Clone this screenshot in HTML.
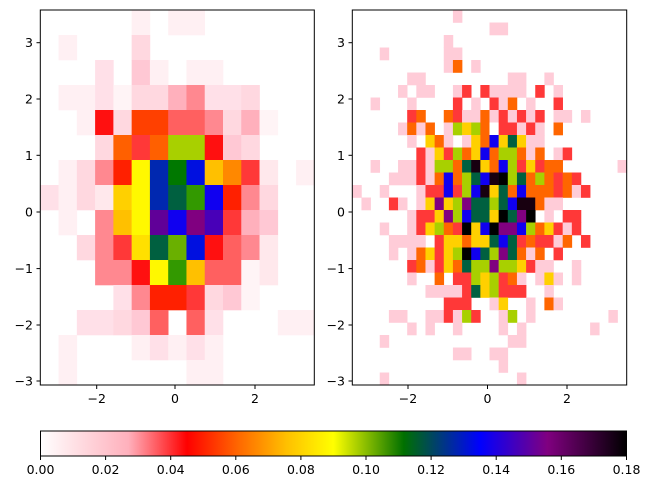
<!DOCTYPE html>
<html><head><meta charset="utf-8"><style>
html,body{margin:0;padding:0;background:#fff;width:651px;height:493px;overflow:hidden}
text{font-family:"DejaVu Sans","Liberation Sans",sans-serif;font-size:12.5px;fill:#000}
</style></head><body>
<svg id="s" width="651" height="493" xmlns="http://www.w3.org/2000/svg">
<defs><linearGradient id="cb" x1="0" x2="1" y1="0" y2="0">
<stop offset="0" stop-color="#ffffff"/><stop offset="0.15" stop-color="#ffb0bc"/>
<stop offset="0.25" stop-color="#ff0000"/><stop offset="0.34" stop-color="#ff6a00"/>
<stop offset="0.42" stop-color="#ffc000"/><stop offset="0.5" stop-color="#ffff00"/>
<stop offset="0.62" stop-color="#007000"/><stop offset="0.75" stop-color="#0000ff"/>
<stop offset="0.865" stop-color="#800080"/><stop offset="1" stop-color="#000000"/>
</linearGradient></defs>
<g id="L"></g><g id="R"></g>
<rect x="40.3" y="10" width="274" height="375" fill="none" stroke="#000" stroke-width="1"/>
<rect x="352.3" y="10" width="274.4" height="375" fill="none" stroke="#000" stroke-width="1"/>
<rect x="40.5" y="431" width="586" height="25" fill="url(#cb)" stroke="#000" stroke-width="1"/>
<g stroke="#000" stroke-width="1">
<line x1="96.7" y1="385" x2="96.7" y2="389"/><line x1="175" y1="385" x2="175" y2="389"/><line x1="255" y1="385" x2="255" y2="389"/>
<line x1="408" y1="385" x2="408" y2="389"/><line x1="487.5" y1="385" x2="487.5" y2="389"/><line x1="567" y1="385" x2="567" y2="389"/>
<line x1="36.5" y1="42.7" x2="40.3" y2="42.7"/><line x1="36.5" y1="99" x2="40.3" y2="99"/><line x1="36.5" y1="155.3" x2="40.3" y2="155.3"/><line x1="36.5" y1="212" x2="40.3" y2="212"/><line x1="36.5" y1="268.6" x2="40.3" y2="268.6"/><line x1="36.5" y1="325" x2="40.3" y2="325"/><line x1="36.5" y1="381" x2="40.3" y2="381"/>
<line x1="348.5" y1="42.7" x2="352.3" y2="42.7"/><line x1="348.5" y1="99" x2="352.3" y2="99"/><line x1="348.5" y1="155.3" x2="352.3" y2="155.3"/><line x1="348.5" y1="212" x2="352.3" y2="212"/><line x1="348.5" y1="268.6" x2="352.3" y2="268.6"/><line x1="348.5" y1="325" x2="352.3" y2="325"/><line x1="348.5" y1="381" x2="352.3" y2="381"/>
<line x1="40.5" y1="456" x2="40.5" y2="460"/><line x1="105.6" y1="456" x2="105.6" y2="460"/><line x1="170.7" y1="456" x2="170.7" y2="460"/><line x1="235.8" y1="456" x2="235.8" y2="460"/><line x1="300.9" y1="456" x2="300.9" y2="460"/><line x1="366" y1="456" x2="366" y2="460"/><line x1="431.1" y1="456" x2="431.1" y2="460"/><line x1="496.2" y1="456" x2="496.2" y2="460"/><line x1="561.3" y1="456" x2="561.3" y2="460"/><line x1="626.5" y1="456" x2="626.5" y2="460"/>
</g>
<g text-anchor="middle">
<text x="96.7" y="403">−2</text><text x="175" y="403">0</text><text x="255" y="403">2</text>
<text x="408" y="403">−2</text><text x="487.5" y="403">0</text><text x="567" y="403">2</text>
<text x="40.5" y="474">0.00</text><text x="105.6" y="474">0.02</text><text x="170.7" y="474">0.04</text><text x="235.8" y="474">0.06</text><text x="300.9" y="474">0.08</text><text x="366" y="474">0.10</text><text x="431.1" y="474">0.12</text><text x="496.2" y="474">0.14</text><text x="561.3" y="474">0.16</text><text x="626.5" y="474">0.18</text>
</g>
<g text-anchor="end">
<text x="33" y="47">3</text><text x="33" y="103.5">2</text><text x="33" y="160">1</text><text x="33" y="216.5">0</text><text x="33" y="273">−1</text><text x="33" y="329.5">−2</text><text x="33" y="385.5">−3</text>
<text x="345" y="47">3</text><text x="345" y="103.5">2</text><text x="345" y="160">1</text><text x="345" y="216.5">0</text><text x="345" y="273">−1</text><text x="345" y="329.5">−2</text><text x="345" y="385.5">−3</text>
</g>
</svg>
<script>
var NS="http://www.w3.org/2000/svg";
function draw(gid,rows,map,x0,w,y0,h){
 var g=document.getElementById(gid);
 rows.forEach(function(r,ri){
  if(!r)return;
  r.split(" ").forEach(function(t){
   var m=t.match(/^(\d+)(?:-(\d+))?(\w)$/);
   var a=+m[1],b=m[2]?+m[2]:a,c=map[m[3]];
   var e=document.createElementNS(NS,"rect");
   e.setAttribute("x",x0+a*w);e.setAttribute("y",y0+ri*h);
   e.setAttribute("width",(b-a+1)*w+0.3);e.setAttribute("height",h+0.3);
   e.setAttribute("fill",c);g.appendChild(e);
  });
 });
}
var LM={a:"#fff0f3",b:"#ffe0e8",c:"#ffd8e0",d:"#ffc8d4",e:"#ffb0bc",f:"#ff8890",g:"#ff6060",h:"#ff3838",i:"#ff1010",j:"#ff2000",k:"#ff4000",l:"#ff6000",m:"#ff8800",n:"#ffc000",o:"#ffd000",p:"#ffe000",q:"#fff800",r:"#a8d000",s:"#6ab000",t:"#339900",u:"#007800",v:"#006040",w:"#0028b0",x:"#0010e0",y:"#1000f0",z:"#4800b8",A:"#600098",B:"#800080",C:"#fff4f6",D:"#ffe8ec"};
var LR=["5a 7-8a","1a 5c","3b 5d 6a 8-9a","1-2a 3b 4C 5-6c 7e 8f 9-10b 11c","2a 3i 4c 5-6k 7-8g 9f 10c 11e 12C","3c 4l 5h 6l 7-8r 9i 10d 11c","1a 2c 3f 4j 5q 6w 7u 8x 9n 10m 11h 12D 14a","0b 1a 2c 3D 4o 5q 6w 7v 8t 9y 10j 11f 12c","1a 3f 4n 5q 6A 7y 8B 9z 10h 11e 12d","2c 3f 4h 5p 6v 7s 8x 9i 10g 11f 12D","3-4f 5i 6q 7t 8n 9-10g 11C 12D","4b 5f 6-7j 8h 9c 10d 11C","2-3b 4c 5d 6g 8g 9b 13-14a","1a 5a 6b 7a 8b 9a","1a 8-9a"];
var RM={p:"#ffccd8",r:"#ff3838",o:"#ff6600",y:"#ffd000",l:"#a8d000",g:"#006040",b:"#1000f0",u:"#800080",k:"#180010",K:"#000000",w:"#ffffff"};
var RR=["11p","15-16p","10p","3p 10-11p","10p 11o 13p","6-7p 17-18p 21p","5p 7-8p 11p 12r 14r 15-18p 20r 22p","2p 6p 11r 13p 15r 16p 17o 19p 22r","6r 7o 10o 11r 12-13p 14o 15p 16r 17p 18r 19p 20r 22-23p 25p","5p 6o 7p 8o 10p 11l 12y 13l 14o 15w 16-17r 18p 19r 20p 22o","6p 8y 9o 10p 12p 13y 14o 15b 16y 17g 18y 19-20p","7r 8p 9y 10r 11l 12o 13y 14b 15o 16-17l 18o 19p 20o 22p 23r","2p 5-6p 7r 8p 9-10l 11o 12g 13k 14y 15o 16b 17l 18r 19y 20r 21-22o 29p","4-6p 7r 8p 9o 10b 11o 12l 13g 14b 15k 16K 17l 18g 19o 20l 21o 22r 23o 24r","0p 3p 7p 8-9r 10b 11r 12l 13b 14k 15y 16g 17o 18b 19-21o 22r 23o 24p 25r","1p 4r 5p 7p 8y 9u 10y 11l 12u 13-14g 15l 16g 17b 18-19k 20o 21-22p","6p 7-8r 9y 10u 11l 12b 13-14g 15y 16K 17g 18u 19K 21p 23-24r","3p 6p 7r 8y 9l 10o 11r 12K 13y 14b 15K 16-17u 18b 19l 20o 21y 22r 23p 24r","4-7p 9r 10-11y 12o 13-14y 15g 16b 17g 18r 19o 20-21r 22p 23o 25r","4p 6p 7o 8y 9r 10y 11l 12K 13b 14g 15l 16u 17g 18o 19p 20o 22r","6r 7o 8p 9r 10y 11o 12g 13-14l 15u 16-17l 18y 19r 20-21p 24p","6p 9o 11-12r 13l 14y 15l 16r 17o 18p 20p 21y 22p 24p","8-11p 12r 13g 14y 15l 16-18r 21p","10-12r 15p 16y 19p 21o 22p","4-5p 8-9p 10r 11p 12l 13r 16p 17l 19p 28p","6p 8p 11p 16p 18p 26p","3p 17-18p","11-12p 15-16p","16p","3p 18p"];
draw("L",LR,LM,40.3,18.27,10,25);
draw("R",RR,RM,352.3,9.147,10,12.5);
</script>
</body></html>
